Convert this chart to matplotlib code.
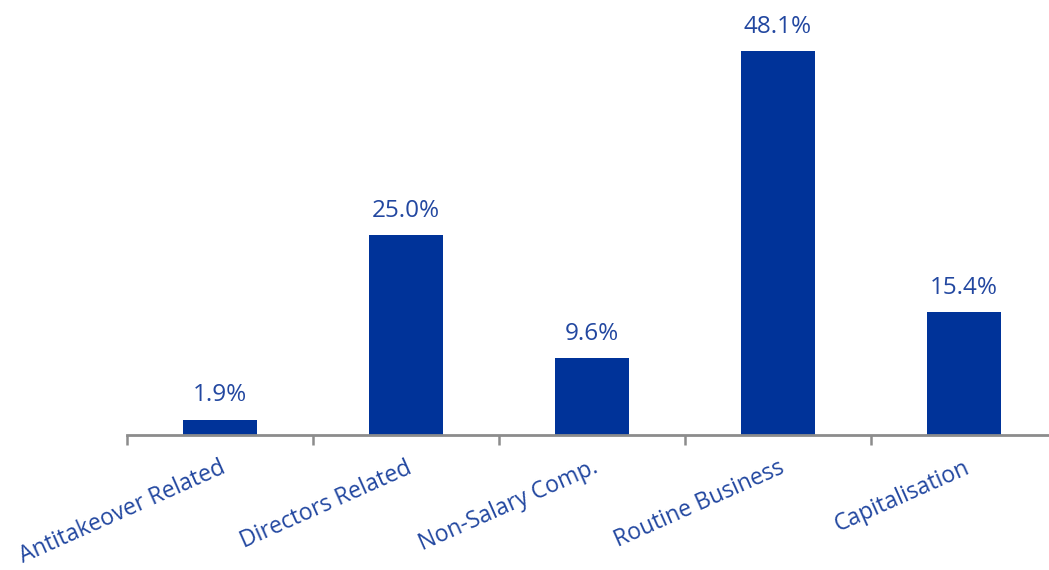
import numpy as np
import matplotlib.pyplot as plt

categories = ['Antitakeover Related', 'Directors Related', 'Non-Salary Comp.',
              'Routine Business', 'Capitalisation']
shares = [1.9, 25.0, 9.6, 48.1, 15.4]

bar_color = '#003399'
text_color = '#2247a0'
axis_color = '#8c8c8c'

plt.rcParams['font.family'] = ['Open Sans', 'DejaVu Sans']

fig = plt.figure(figsize=(10.49, 5.70), dpi=100)
ax = fig.add_axes([127 / 1049, (570 - 435) / 570, 930 / 1049, 435 / 570])

x = np.arange(len(categories))
ax.bar(x, shares, width=0.4, color=bar_color, zorder=2)

for xi, v in zip(x, shares):
    ax.annotate(f'{v:.1f}%', (xi, v), xytext=(0, 9), textcoords='offset points',
                ha='center', va='bottom', fontsize=17.5, color=text_color)

ax.set_xlim(-0.5, len(categories) - 0.5)
ax.set_ylim(0, 54.5)

# category labels at centres, tick marks at boundaries
ax.set_xticks(x)
ax.set_xticklabels(categories, rotation=24, ha='right', va='top',
                   rotation_mode='anchor', fontsize=16.6, color=text_color)
ax.tick_params(axis='x', which='major', length=0, pad=15)
ax.set_xticks(np.arange(len(categories) + 1) - 0.5, minor=True)
ax.tick_params(axis='x', which='minor', length=7, width=1.8, color=axis_color, direction='out')

ax.set_yticks([])
for side in ['top', 'right', 'left']:
    ax.spines[side].set_visible(False)
ax.spines['bottom'].set_color(axis_color)
ax.spines['bottom'].set_linewidth(2)

fig.savefig('out.png', dpi=100)
plt.close(fig)
